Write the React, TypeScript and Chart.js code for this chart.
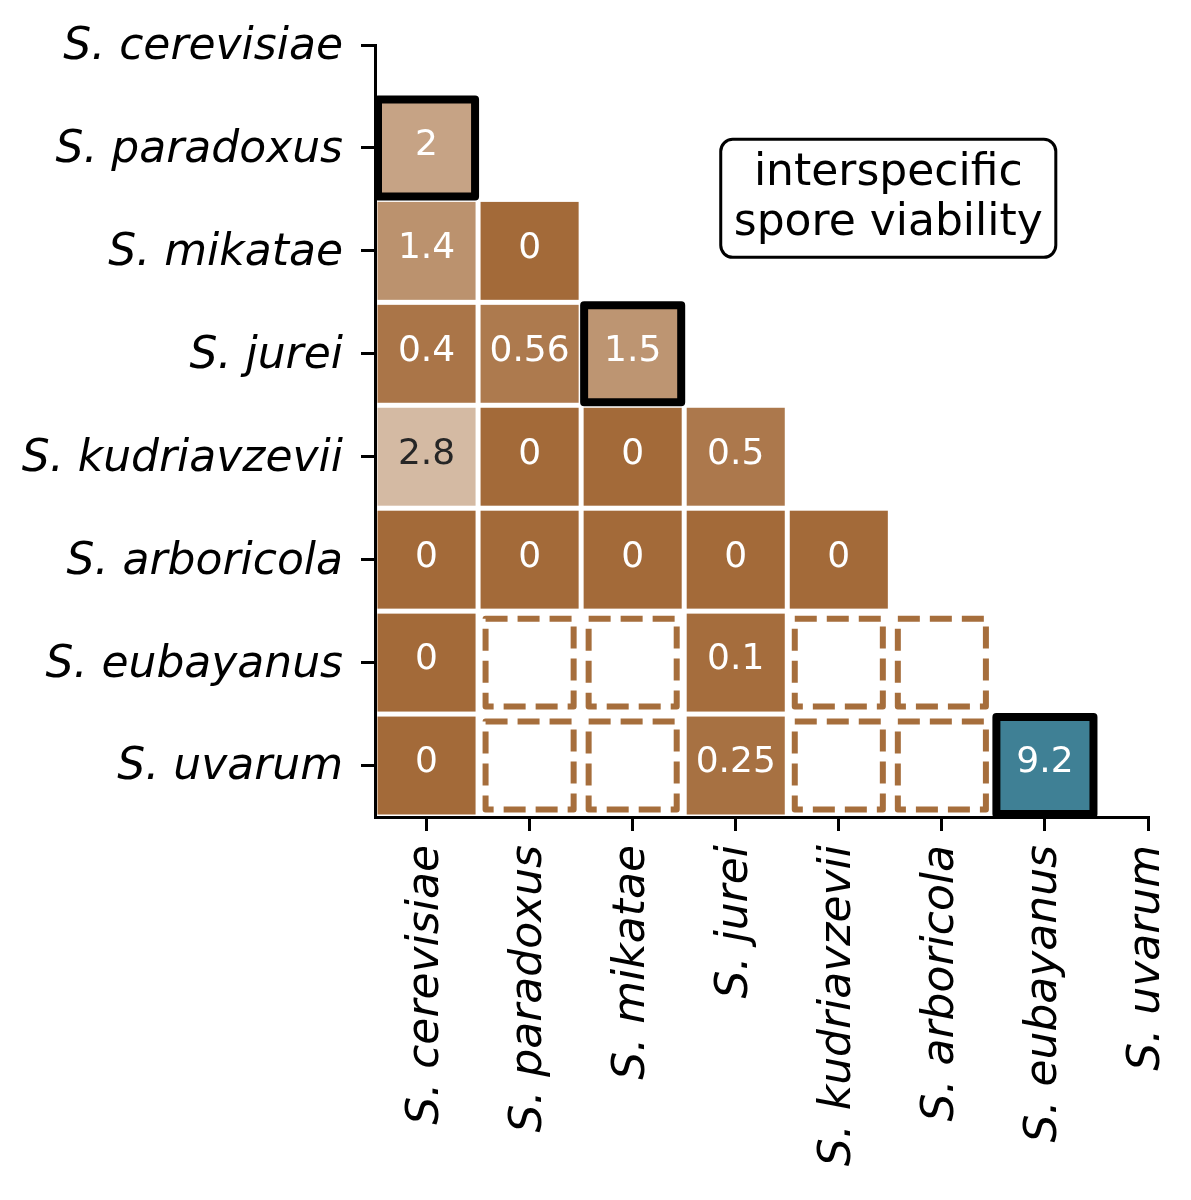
import { useEffect, useRef } from 'react';
import { Chart, registerables } from 'chart.js';

Chart.register(...registerables);

// ---- data ----
const species = [
  'S. cerevisiae',
  'S. paradoxus',
  'S. mikatae',
  'S. jurei',
  'S. kudriavzevii',
  'S. arboricola',
  'S. eubayanus',
  'S. uvarum',
];

// lower triangle, row index = species index, column index = species index; null = not tested
const viability: (number | null)[][] = [
  [],
  [2],
  [1.4, 0],
  [0.4, 0.56, 1.5],
  [2.8, 0, 0, 0.5],
  [0, 0, 0, 0, 0],
  [0, null, null, 0.1, null, null],
  [0, null, null, 0.25, null, null, 9.2],
];

// [row, column] of outlined cells
const highlightedCells: [number, number][] = [
  [1, 0],
  [3, 2],
  [7, 6],
];

const boxLines = ['interspecific', 'spore viability'];

// colour map stops
const stopValues = [0, 5, 9.2];
const stopColors: [number, number, number][] = [
  [163, 106, 57],
  [250, 248, 246],
  [63, 128, 149],
];

const FONT = "'DejaVu Sans', 'Liberation Sans', sans-serif";
const BROWN = 'rgb(166, 110, 60)';

function colorFor(v: number): [number, number, number] {
  for (let i = 0; i < stopValues.length - 1; i++) {
    if (v <= stopValues[i + 1]) {
      const t = (v - stopValues[i]) / (stopValues[i + 1] - stopValues[i]);
      const a = stopColors[i];
      const b = stopColors[i + 1];
      return [0, 1, 2].map((k) => Math.round(a[k] + (b[k] - a[k]) * t)) as [number, number, number];
    }
  }
  return stopColors[stopColors.length - 1];
}

function luminance(c: [number, number, number]) {
  const lin = c.map((x) => {
    const s = x / 255;
    return s <= 0.03928 ? s / 12.92 : Math.pow((s + 0.055) / 1.055, 2.4);
  });
  return 0.2126 * lin[0] + 0.7152 * lin[1] + 0.0722 * lin[2];
}

const cellPlugin = {
  id: 'cells',
  afterDatasetsDraw(chart: any) {
    const { ctx } = chart;
    const xs = chart.scales.x;
    const ys = chart.scales.y;
    const pts = chart.data.datasets[0].data as { x: number; y: number; v: number | null }[];
    ctx.save();
    for (const p of pts) {
      const x0 = xs.getPixelForValue(p.x - 0.5);
      const x1 = xs.getPixelForValue(p.x + 0.5);
      const y0 = ys.getPixelForValue(p.y - 0.5);
      const y1 = ys.getPixelForValue(p.y + 0.5);
      if (p.v === null) {
        const ins = 7.5;
        ctx.strokeStyle = BROWN;
        ctx.lineWidth = 6;
        ctx.setLineDash([22, 10]);
        ctx.lineJoin = 'round';
        ctx.strokeRect(x0 + ins, y0 + ins, x1 - x0 - 2 * ins, y1 - y0 - 2 * ins);
        ctx.setLineDash([]);
      } else {
        const c = colorFor(p.v);
        const ins = 2.5;
        ctx.fillStyle = `rgb(${c[0]},${c[1]},${c[2]})`;
        ctx.fillRect(x0 + ins, y0 + ins, x1 - x0 - 2 * ins, y1 - y0 - 2 * ins);
        ctx.fillStyle = luminance(c) > 0.408 ? '#262626' : '#ffffff';
        ctx.font = `36px ${FONT}`;
        ctx.textAlign = 'center';
        ctx.textBaseline = 'middle';
        ctx.fillText(String(p.v), (x0 + x1) / 2, (y0 + y1) / 2 - 2.5);
      }
    }
    for (const [r, cIdx] of highlightedCells) {
      const x0 = xs.getPixelForValue(cIdx - 0.5);
      const x1 = xs.getPixelForValue(cIdx + 0.5);
      const y0 = ys.getPixelForValue(r - 0.5);
      const y1 = ys.getPixelForValue(r + 0.5);
      const ins = 3;
      ctx.strokeStyle = '#000';
      ctx.lineWidth = 8;
      ctx.lineJoin = 'round';
      ctx.strokeRect(x0 + ins, y0 + ins, x1 - x0 - 2 * ins, y1 - y0 - 2 * ins);
    }
    // annotation box
    const cx = xs.getPixelForValue(4.48);
    const cy = ys.getPixelForValue(1.49);
    ctx.font = `44px ${FONT}`;
    const w = Math.max(...boxLines.map((l) => ctx.measureText(l).width)) + 26;
    const h = 118;
    ctx.beginPath();
    (ctx as any).roundRect(cx - w / 2, cy - h / 2, w, h, 12);
    ctx.fillStyle = '#fff';
    ctx.fill();
    ctx.lineWidth = 3;
    ctx.strokeStyle = '#000';
    ctx.stroke();
    ctx.fillStyle = '#000';
    ctx.textAlign = 'center';
    ctx.textBaseline = 'middle';
    ctx.fillText(boxLines[0], cx, cy - 25);
    ctx.fillText(boxLines[1], cx, cy + 25);
    ctx.restore();
  },
};

export default function App() {
  const ref = useRef<HTMLCanvasElement | null>(null);
  useEffect(() => {
    if (!ref.current) return;
    const points: { x: number; y: number; v: number | null }[] = [];
    viability.forEach((row, r) => row.forEach((v, c) => points.push({ x: c, y: r, v })));
    const tickSet = (scale: any) => {
      scale.ticks = species.map((_, i) => ({ value: i }));
    };
    const tickFont = { family: FONT, size: 44, style: 'italic' as const };
    const chart = new Chart(ref.current, {
      type: 'scatter',
      data: {
        datasets: [{ data: points as any, pointRadius: 0, showLine: false }],
      },
      plugins: [cellPlugin],
      options: {
        animation: false,
        responsive: false,
        devicePixelRatio: 1,
        events: [],
        layout: { padding: { left: 0, top: 45, right: 43, bottom: 0 } },
        plugins: { legend: { display: false }, tooltip: { enabled: false } },
        scales: {
          x: {
            type: 'linear',
            min: -0.5,
            max: 7,
            afterBuildTicks: tickSet,
            afterFit: (s: any) => {
              s.height = 383;
              s.paddingLeft = 0;
              s.paddingRight = 0;
            },
            border: { display: true, color: '#000', width: 3 },
            grid: {
              display: true,
              drawOnChartArea: false,
              drawTicks: true,
              tickLength: 14,
              tickWidth: 3,
              lineWidth: 3,
              tickColor: '#000',
            },
            ticks: {
              autoSkip: false,
              minRotation: 90,
              maxRotation: 90,
              padding: 14,
              color: '#000',
              font: tickFont,
              callback: (v: any) => species[v as number] ?? '',
            },
          },
          y: {
            type: 'linear',
            min: 0,
            max: 7.5,
            reverse: true,
            afterBuildTicks: tickSet,
            afterFit: (s: any) => {
              s.width = 375;
              s.paddingTop = 0;
              s.paddingBottom = 0;
            },
            border: { display: true, color: '#000', width: 3 },
            grid: {
              display: true,
              drawOnChartArea: false,
              drawTicks: true,
              tickLength: 14,
              tickWidth: 3,
              lineWidth: 3,
              tickColor: '#000',
            },
            ticks: {
              autoSkip: false,
              padding: 18,
              color: '#000',
              font: { ...tickFont, lineHeight: '5px' },
              // blank first line nudges the label a few pixels down, onto the tick
              callback: (v: any) => ['', species[v as number] ?? ''],
            },
          },
        },
      },
    });
    return () => chart.destroy();
  }, []);
  return (
    <div style={{ position: 'absolute', left: 0, top: 0, width: 1191, height: 1200, background: '#fff' }}>
      <canvas ref={ref} width={1191} height={1200} />
    </div>
  );
}
